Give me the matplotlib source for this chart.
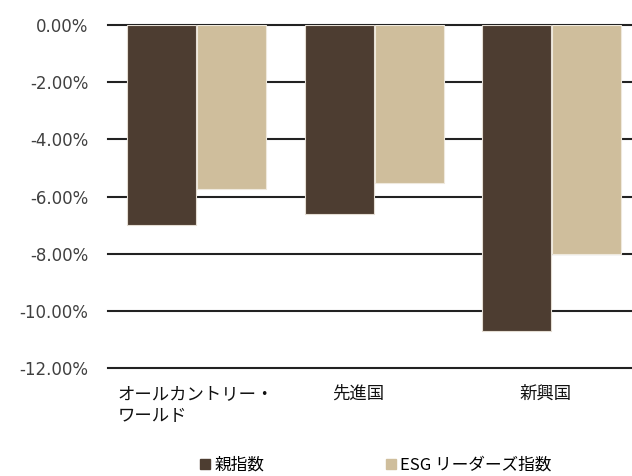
import numpy as np
import matplotlib
matplotlib.use("Agg")
import matplotlib.pyplot as plt
import matplotlib.transforms as mtransforms
from matplotlib.lines import Line2D

# data (% change)
categories = ["オールカントリー・\nワールド", "先進国", "新興国"]
parent_vals = [-7.0, -6.62, -10.7]
esg_vals = [-5.75, -5.52, -8.0]
series_names = ["親指数", "ESG リーダーズ指数"]
yticks = [0, -2, -4, -6, -8, -10, -12]

dark = "#4d3d31"
light = "#cfbe9c"
jp_font = ["Noto Sans CJK JP", "DejaVu Sans"]

fig = plt.figure(figsize=(6.32, 4.76), dpi=100)
ax = fig.add_axes([108 / 632, 108 / 476, 532.5 / 632, 343 / 476])

x = np.arange(len(categories))
w = 0.39
ax.bar(x - 0.197, parent_vals, w, color=dark, edgecolor="#e4ddd3", linewidth=0.8, zorder=3)
ax.bar(x + 0.197, esg_vals, w, color=light, edgecolor="#efe9dd", linewidth=0.8, zorder=3)

ax.set_xlim(-0.5, 2.5)
ax.set_ylim(-12, 0)
ax.set_yticks(yticks)
ax.set_yticklabels([f"{v:.2f}%" for v in yticks])
for v in yticks:
    ax.axhline(v, color="#222222", lw=1.5, zorder=1, clip_on=False)

for s in ax.spines.values():
    s.set_visible(False)
ax.tick_params(axis="y", length=0, pad=14, labelsize=12, labelcolor="#404040")
ax.tick_params(axis="x", length=0, pad=12)

ax.set_xticks(x)
ax.set_xticklabels(categories, family=jp_font, fontsize=12.5, color="#111111",
                   va="top", ha="center", multialignment="left", linespacing=1.3)
# labels sit a little left of the group centre, like the original
for lbl, dx in zip(ax.get_xticklabels(), [-1, -16, -6]):
    lbl.set_transform(lbl.get_transform()
                      + mtransforms.ScaledTranslation(dx / 100, 0, fig.dpi_scale_trans))

handles = [Line2D([], [], marker="s", linestyle="none", markersize=6.5, color=dark),
           Line2D([], [], marker="s", linestyle="none", markersize=6.5, color=light)]
fig.legend(handles, series_names, loc="center", bbox_to_anchor=(376 / 632, 11 / 476),
           ncol=2, frameon=False, prop={"family": jp_font, "size": 12},
           handlelength=0.6, handletextpad=0.25, columnspacing=7.3, borderaxespad=0)

fig.savefig("out.png", dpi=100)
